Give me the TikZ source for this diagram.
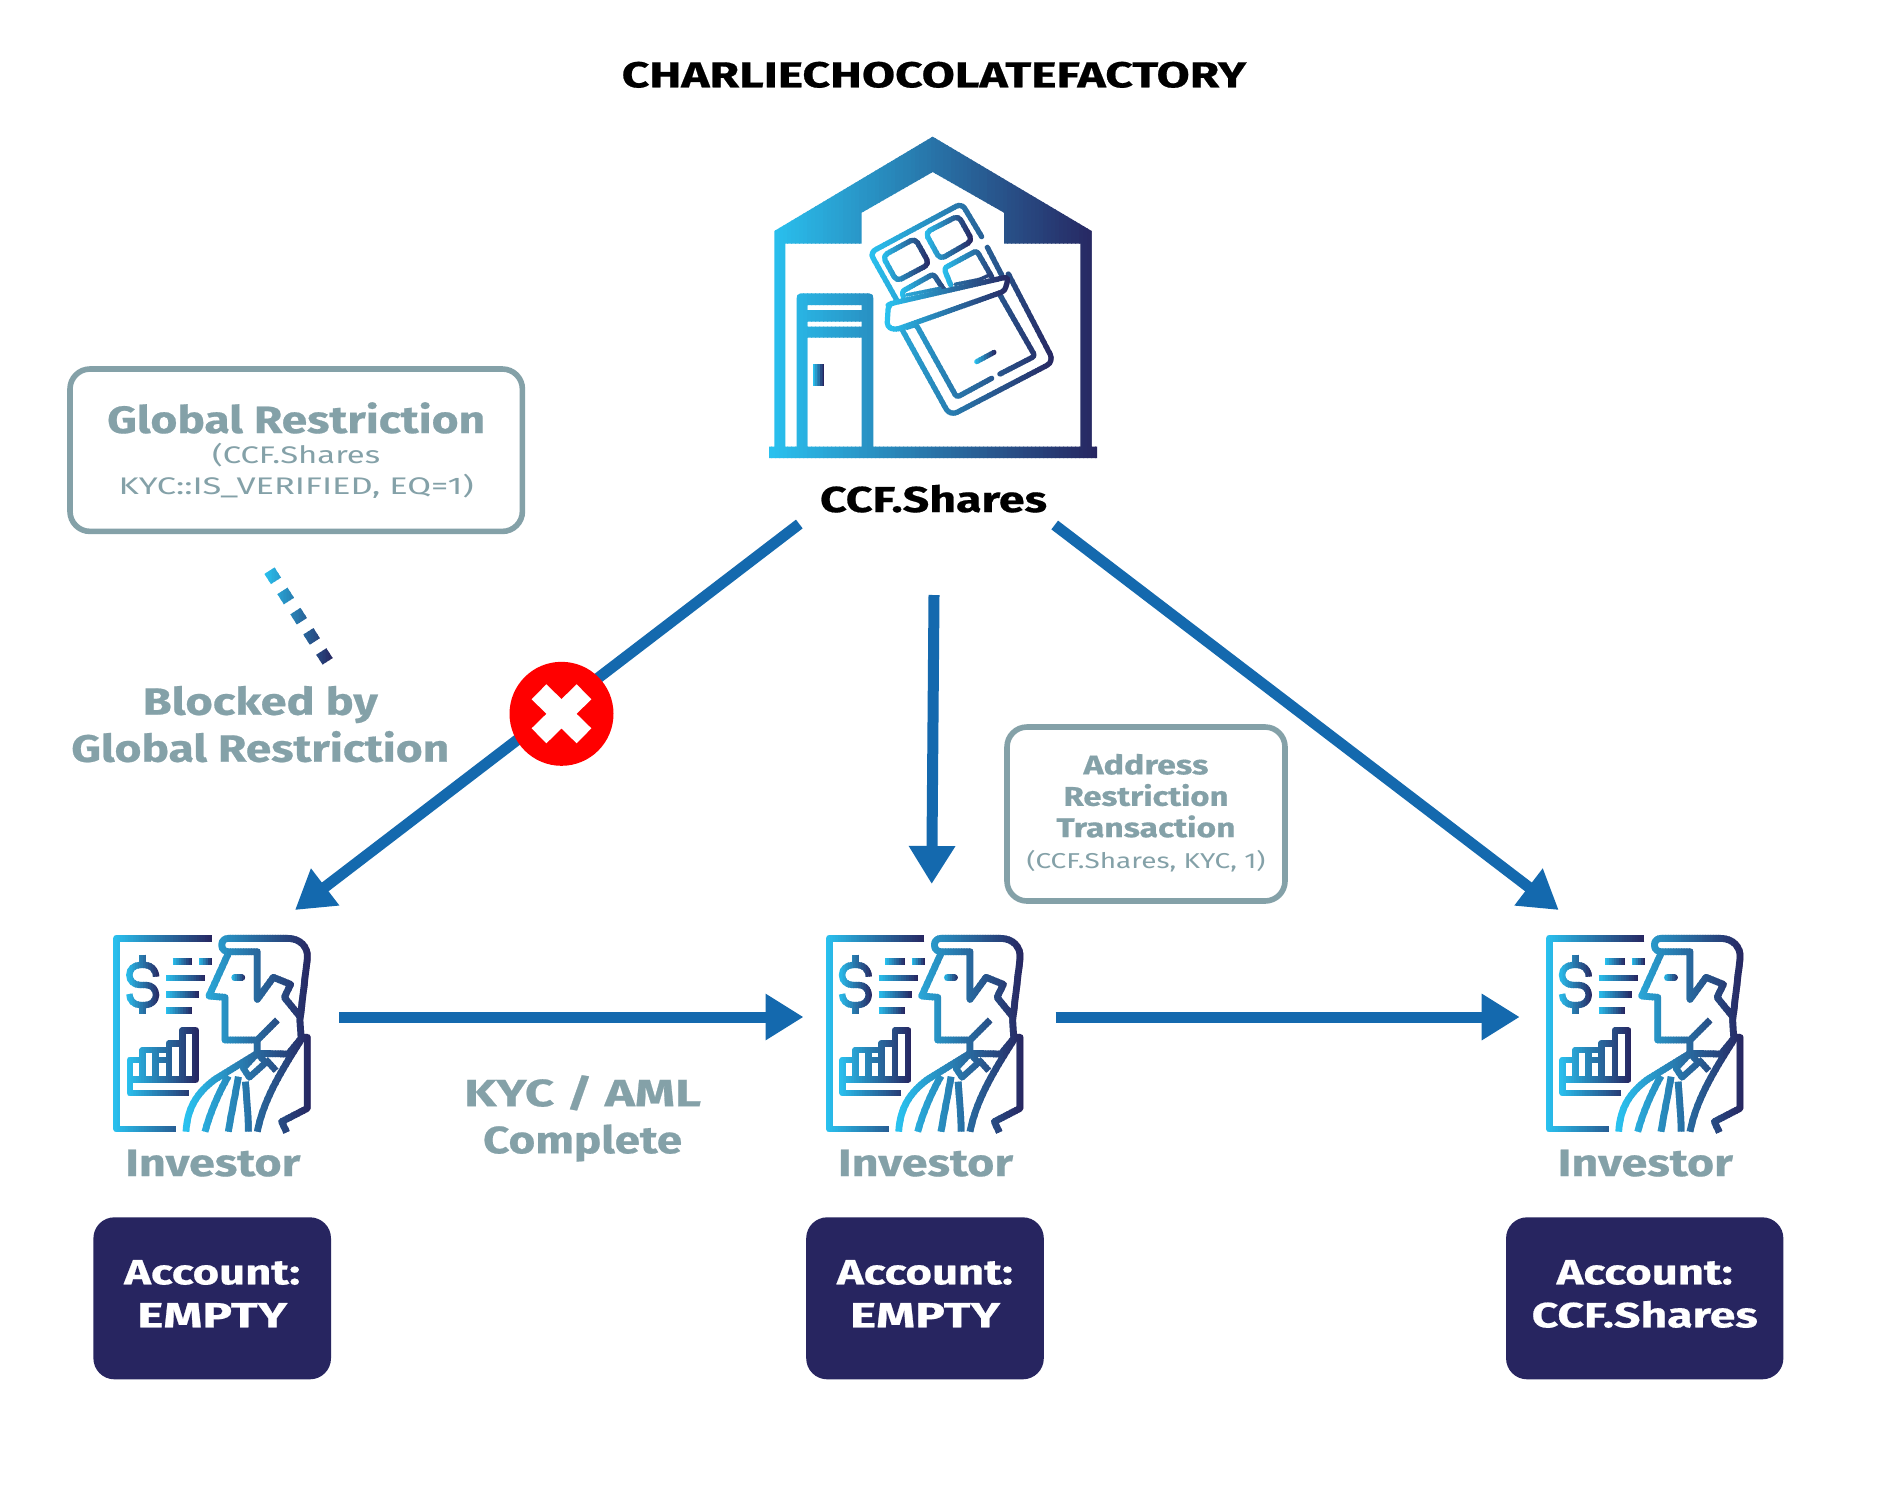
\documentclass[tikz,border=0pt]{standalone}
\usepackage{fontspec}
\usepackage{graphicx}
\setmainfont{Fira Sans}[BoldFeatures={FakeBold=0.5}]
\usetikzlibrary{arrows.meta}
\definecolor{gcyan}{HTML}{29C1EF}
\definecolor{gdark}{HTML}{272560}
\definecolor{greytxt}{HTML}{84A1A8}
\definecolor{flow}{HTML}{1469AE}
\newsavebox\fitbox
\newcommand\fitw[2]{\sbox\fitbox{#2}\pgfmathsetmacro\fitscale{#1/\the\wd\fitbox}\scalebox{\fitscale}[1]{\usebox\fitbox}}
\newcommand\topfix[1]{\rule{0pt}{#1pt}}
\newcommand\botfix[1]{\rule[-#1pt]{0pt}{#1pt}}
% gradient painter: repeats the drawing in vertical strips
\newcommand\gradgroup[3]{%
  \pgfmathtruncatemacro\gn{max(ceil((#2-#1)/\gstepsize),2)}%
  \pgfmathsetmacro\gdx{(#2-#1)/\gn}%
  \foreach \gi in {0,...,\gn}{%
    \pgfmathtruncatemacro\gp{100*\gi/\gn}%
    \colorlet{gc}{gdark!\gp!gcyan}%
    \pgfmathsetmacro\gl{\gi==0 ? #1-80 : #1+(\gi-0.5)*\gdx}%
    \pgfmathsetmacro\gr{\gi==\gn ? #2+80 : #1+(\gi+0.5)*\gdx+\goverlap}%
    \begin{scope}\clip (\gl,-6000) rectangle (\gr,6000); #3 \end{scope}%
  }%
}
\def\gstepsize{8}
\def\goverlap{3}
\newcommand\investoricon[1]{%
\begin{scope}[shift={(#1,920)},x=0.33333pt,y=-0.33333pt,ic/.style={draw=gc,line width=6.8pt,line join=round,line cap=butt}]
  \gradgroup{40}{335}{\draw[ic] (335,55) -- (50,55) -- (50,627) -- (228,627);}
  \gradgroup{78}{180}{\draw[ic,line width=6.4pt] (168,170) .. controls (168,148) and (152,135) .. (135,135) -- (120,135) .. controls (102,135) and (88,148) .. (88,165) .. controls (88,182) and (102,195) .. (120,195) -- (138,195) .. controls (156,195) and (168,208) .. (168,225) .. controls (168,242) and (154,255) .. (136,255) -- (120,255) .. controls (102,255) and (88,240) .. (88,222);
     \draw[ic] (128,104) -- (128,135) (128,255) -- (128,282);}
  \gradgroup{218}{277}{\draw[ic] (218,124) -- (277,124);}
  \gradgroup{297}{336}{\draw[ic] (297,124) -- (336,124);}
  \gradgroup{198}{316}{\draw[ic] (198,174) -- (316,174);}
  \gradgroup{198}{297}{\draw[ic] (198,223) -- (297,223);}
  \gradgroup{198}{277}{\draw[ic] (198,272) -- (277,272);}
  \gradgroup{80}{296}{\draw[ic] (266,519) -- (90,519) -- (90,420) -- (128,420) -- (128,390) -- (167,390) -- (167,420) -- (207,420) -- (207,370) -- (247,370) -- (247,331) -- (286,331) -- (286,479) -- (90,479);
     \draw[ic] (128,420) -- (128,479) (167,390) -- (207,390) -- (207,479) (167,420) -- (167,479) (247,370) -- (247,479);}
  \gradgroup{258}{632}{%
     \draw[ic] (603,352) -- (600,300) -- (622,115) .. controls (625,80) and (600,55) .. (562,55) -- (385,55) .. controls (372,55) and (365,65) .. (365,75) .. controls (365,88) and (375,95) .. (385,95) -- (472,95) -- (472,238) -- (520,172) -- (572,193) -- (553,232) -- (600,290);
     \draw[ic] (385,100) -- (327,228) -- (375,232) -- (375,360) -- (472,360) -- (532,300);
     \draw[ic] (472,360) -- (472,400) -- (565,402) -- (606,352) -- (622,352) -- (622,565) -- (545,605) -- (560,637);
     \draw[ic] (472,400) -- (345,478) .. controls (295,515) and (262,560) .. (258,635);
     \draw[ic] (385,468) .. controls (355,520) and (330,580) .. (315,635);
     \draw[ic] (415,470) .. controls (405,530) and (392,590) .. (385,635);
     \draw[ic] (436,485) .. controls (440,530) and (445,590) .. (445,635);
     \draw[ic] (606,355) .. controls (545,450) and (490,540) .. (472,635);
     \draw[ic,line width=6.4pt] (472,400) -- (430,445) -- (448,472) -- (497,428) -- (472,400) (497,418) -- (528,452);}
  \gradgroup{394}{436}{\draw[ic,line cap=round] (404,173) -- (425,173);}
\end{scope}}
\tikzset{
  x=1pt,y=-1pt,
  flowline/.style={draw=flow,line width=11pt,-{Triangle[length=38pt,width=44pt]}},
  greybox/.style={draw=greytxt,line width=5.6pt,rounded corners=20pt,inner sep=0pt,align=center,text=greytxt},
  acct/.style={fill=gdark,rounded corners=21pt,inner sep=0pt,align=center,text=white,minimum height=162pt,font=\fontsize{35}{43}\selectfont\bfseries},
  greytext/.style={text=greytxt,inner sep=0pt,align=center,font=\fontsize{38}{47}\selectfont\bfseries},
  blacktext/.style={text=black,inner sep=0pt,font=\fontsize{36}{43}\selectfont\bfseries},
}
\begin{document}
\begin{tikzpicture}
\useasboundingbox[fill=white] (0,0) rectangle (1878,1484);

% title
\node[blacktext,anchor=base] (title) at (934,87.3) {\fitw{624.5}{CHARLIECHOCOLATEFACTORY}};

% factory building
\begin{scope}[shift={(740,120)},x=0.33333pt,y=-0.33333pt,choc/.style={draw=gc,line width=5.2pt,line cap=round,line join=round,rounded corners=3pt}]
  \def\gstepsize{12}
  \gradgroup{87}{1071}{\fill[gc,even odd rule]
     (103,333) -- (578,50) -- (1055,333) -- (1055,980) -- (1071,980) -- (1071,1014) -- (87,1014) -- (87,980) -- (103,980) -- cycle
     (136,371) -- (365,371) -- (365,278) -- (578,156) -- (792,278) -- (792,371) -- (1021,371) -- (1021,980) -- (400,980) -- (400,535) -- (398,525) -- (388,520) -- (182,520) -- (172,525) -- (170,535) -- (170,980) -- (136,980) -- cycle
     (202,555) rectangle (365,570)
     (202,605) rectangle (365,620)
     (202,653) rectangle (365,980);}
  \def\gstepsize{8}
  \gradgroup{220}{252}{\fill[gc] (220,732) rectangle (252,797);}
  % chocolate bar
  \gradgroup{385}{945}{%
     \draw[choc,rounded corners=6pt] (470,540) -- (390,398) -- (665,250) -- (725,350);
     \draw[choc] (742,382) -- (785,465);
     \draw[choc,rounded corners=8pt] (487,630) -- (630,888) -- (942,725) -- (805,462);
     \draw[choc] (500,622) -- (528,613) -- (650,832) -- (755,775);
     \draw[choc] (780,762) -- (885,708) -- (780,525);}
  \gradgroup{425}{572}{\draw[choc,rounded corners=5pt] (428,408) -- (525,355) -- (568,432) -- (470,484) -- cycle;}
  \gradgroup{552}{698}{\draw[choc,rounded corners=5pt] (556,338) -- (655,287) -- (697,362) -- (600,418) -- cycle;}
  \gradgroup{480}{650}{\draw[choc] (490,530) -- (485,515) -- (580,462) -- (612,510);}
  \gradgroup{608}{790}{\draw[choc] (632,495) -- (612,445) -- (710,392) -- (755,470);}
  \gradgroup{440}{810}{%
     \draw[choc,rounded corners=4pt] (455,550) -- (805,470) -- (795,513) -- (465,630) -- (441,620) -- (445,555) -- cycle;
     \draw[choc,line width=3.4pt] (500,525) -- (600,505) (645,493) -- (720,478) -- (748,465);}
  \gradgroup{704}{768}{\draw[choc,line width=5pt] (710,725) -- (762,697);}
\end{scope}
\node[blacktext,anchor=base] (ccf) at (933.5,512) {\fitw{227}{CCF.Shares}};

% investors
\investoricon{100}
\investoricon{812.7}
\investoricon{1532.7}
\node[greytext,anchor=base] (inv1) at (212.8,1176) {\fitw{175}{Investor}};
\node[greytext,anchor=base] (inv2) at (925.5,1176) {\fitw{175}{Investor}};
\node[greytext,anchor=base] (inv3) at (1645.3,1176) {\fitw{175}{Investor}};

% accounts
\node[acct,minimum width=237.6pt] (acc1) at (212.2,1298.3) {\topfix{30}\fitw{176}{Account:}\\\fitw{150}{EMPTY}\botfix{15}};
\node[acct,minimum width=237.6pt] (acc2) at (925,1298.3) {\topfix{30}\fitw{176}{Account:}\\\fitw{150}{EMPTY}\botfix{15}};
\node[acct,minimum width=277.3pt] (acc3) at (1644.7,1298.3) {\topfix{30}\fitw{176}{Account:}\\\fitw{226}{CCF.Shares}\botfix{15}};

% restriction boxes
\node[greybox,minimum width=452.4pt,minimum height=162.4pt,font=\fontsize{38}{30.5}\selectfont] (gbox) at (296.2,450.2)
  {\topfix{35}\fitw{378}{\bfseries Global Restriction}\\
   \fitw{168}{\fontsize{24}{31}\selectfont (CCF.Shares}\\
   \fitw{355}{\fontsize{24}{31}\selectfont KYC::IS\_VERIFIED, EQ=1)}\botfix{8.4}};
\node[greybox,minimum width=278pt,minimum height=174pt,font=\fontsize{27}{31.4}\selectfont] (abox) at (1146,814)
  {\topfix{25}\fitw{125}{\bfseries Address}\\
   \fitw{165}{\bfseries Restriction}\\
   \fitw{179}{\bfseries Transaction}\\
   \fitw{239}{\fontsize{21.5}{31}\selectfont (CCF.Shares, KYC, 1)}\botfix{10.1}};

% free labels
\node[greytext,anchor=north] (blocked) at (260.3,674.5) {\topfix{40}\fitw{235}{Blocked by}\\\fitw{378}{Global Restriction}};
\node[greytext,anchor=north] (kyc) at (582.6,1066) {\topfix{40}\fitw{237}{KYC / AML}\\\fitw{199}{Complete}};

% connectors
\coordinate (lstart) at (799.3,524);
\coordinate (lend) at (295,910);
\coordinate (mstart) at (934,595);
\coordinate (mend) at (931.7,884);
\coordinate (rstart) at (1054.7,525);
\coordinate (rend) at (1558.7,910);
\coordinate (h1start) at (339,1017);
\coordinate (h1end) at (803.5,1017);
\coordinate (h2start) at (1055.5,1017);
\coordinate (h2end) at (1519.7,1017);
\draw[flowline] (lstart) -- (lend);
\draw[flowline] (mstart) -- (mend);
\draw[flowline] (rstart) -- (rend);
\draw[flowline] (h1start) -- (h1end);
\draw[flowline] (h2start) -- (h2end);

% blocked marker
\node[circle,fill=red,minimum size=104pt,inner sep=0pt] (stop) at (561.5,713.8) {};
\draw[white,line width=21pt] ([shift={(-22.5,-22)}]stop.center) -- ([shift={(22.5,22)}]stop.center);
\draw[white,line width=21pt] ([shift={(22.5,-22)}]stop.center) -- ([shift={(-22.5,22)}]stop.center);

% dotted link
\coordinate (dotA) at (269.5,570.7);
\coordinate (dotB) at (327.6,661.3);
\def\gstepsize{3}\def\goverlap{1}
\gradgroup{264}{333}{\draw[gc,line width=12pt,dash pattern=on 12pt off 12pt] (dotA) -- (dotB);}
\end{tikzpicture}
\end{document}
